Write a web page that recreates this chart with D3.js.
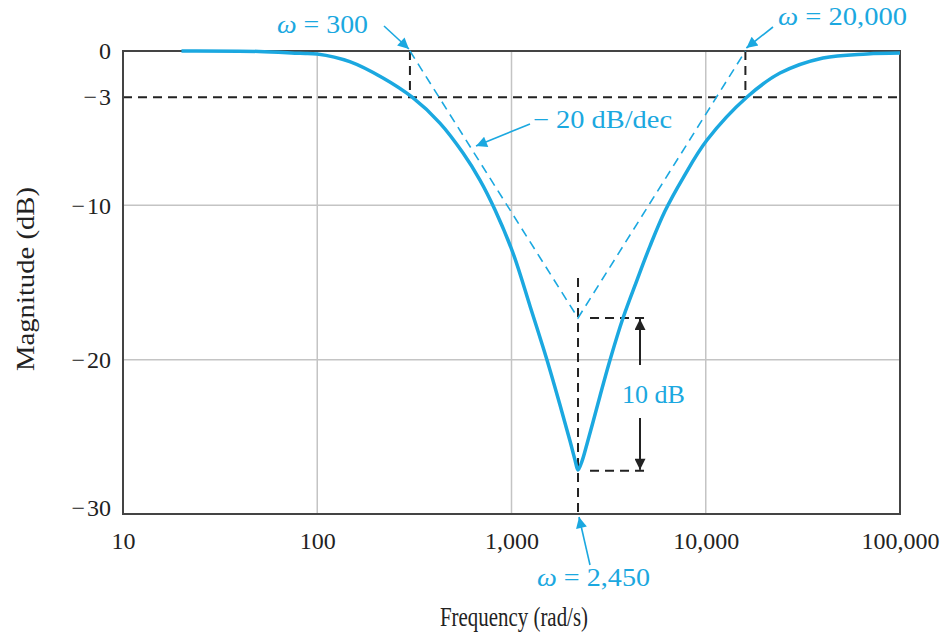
<!DOCTYPE html>
<html>
<head>
<meta charset="utf-8">
<script src="https://cdn.jsdelivr.net/npm/d3@7"></script>
<style>
  body { margin: 0; background: #fff; }
  text { font-family: "Liberation Serif", "Times New Roman", serif; }
</style>
</head>
<body>
<div id="chart"></div>
<script>
// data
const freq  = [20, 50, 81.5, 100, 147, 218, 307, 428, 563, 688, 823, 1018, 1245, 1523, 1777, 2001, 2123, 2199,
               2307, 2447, 2628, 2855, 3215, 3750, 4427, 5164, 6169, 7637, 10150, 16310, 24120, 40150, 67620, 100000];
const magDb = [0, -0.03, -0.15, -0.19, -0.69, -1.75, -2.98, -4.67, -6.61, -8.36, -10.3, -13.09, -16.52, -20.02, -22.94, -25.27, -26.5, -27.15,
               -26.57, -25.46, -24.04, -22.35, -20.02, -17.3, -14.84, -12.64, -10.37, -8.23, -5.77, -2.98, -1.43, -0.45, -0.19, -0.13];

// straight-line asymptotes (-20 dB/dec)
const asymFreq = [300, 2200, 16000];
const asymDb   = [0, -17.3, 0];

const xTicks = [10, 100, 1000, 10000, 100000];
const xTickLabels = ["10", "100", "1,000", "10,000", "100,000"];
const yTicks = [0, -3, -10, -20, -30];
const yGrid  = [-10, -20];

const cornerLo = 300, cornerHi = 16000, notchF = 2200, notchDb = -27.2, notchAsym = -17.3;

// constants
const width = 946, height = 636;
const blue = "#1ba8e0", ink = "#222";

const x = d3.scaleLog().domain([10, 100000]).range([123, 900]);
const y = d3.scaleLinear().domain([0, -30]).range([51, 514]);

const svg = d3.select("#chart").append("svg")
    .attr("width", width)
    .attr("height", height);

const defs = svg.append("defs");
[["arrBlue", blue], ["arrBlack", ink]].forEach(([id, c]) => {
    defs.append("marker")
        .attr("id", id)
        .attr("viewBox", "0 0 10 10")
        .attr("refX", 10).attr("refY", 5)
        .attr("markerWidth", 15).attr("markerHeight", 11)
        .attr("markerUnits", "userSpaceOnUse")
        .attr("orient", "auto")
      .append("path")
        .attr("d", "M0,0 L10,5 L0,10 Z")
        .attr("fill", c);
});

// grid
const grid = svg.append("g").attr("stroke", "#c4c4c4").attr("stroke-width", 1.5);
grid.selectAll(".gx").data(xTicks.slice(1, -1)).enter().append("line")
    .attr("x1", d => x(d)).attr("x2", d => x(d))
    .attr("y1", y(0)).attr("y2", y(-30));
grid.selectAll(".gy").data(yGrid).enter().append("line")
    .attr("x1", x(10)).attr("x2", x(100000))
    .attr("y1", d => y(d)).attr("y2", d => y(d));

// axes (labels only)
const xAxis = svg.append("g")
    .attr("transform", `translate(0,${y(-30)})`)
    .call(d3.axisBottom(x).tickValues(xTicks).tickSize(0).tickPadding(18)
        .tickFormat((d, i) => xTickLabels[i]));
const yAxis = svg.append("g")
    .attr("transform", `translate(${x(10)},0)`)
    .call(d3.axisLeft(y).tickValues(yTicks).tickSize(0).tickPadding(12)
        .tickFormat(d => d === 0 ? "0" : "\u2212\u200a" + Math.abs(d)));
[xAxis, yAxis].forEach(a => {
    a.select(".domain").remove();
    a.selectAll("text").attr("font-size", 24).attr("fill", ink)
        .style("font-family", '"Liberation Serif", serif');
});
yAxis.selectAll(".tick").filter(d => d === -30).select("text").attr("dy", "0.05em");

// -3 dB line and corner markers
const dash = svg.append("g").attr("stroke", ink).attr("stroke-width", 2)
    .attr("stroke-dasharray", "9,6").attr("fill", "none");
dash.append("line").attr("x1", x(10)).attr("x2", x(100000)).attr("y1", y(-3)).attr("y2", y(-3));
[cornerLo, cornerHi].forEach(f => {
    dash.append("line").attr("x1", x(f)).attr("x2", x(f)).attr("y1", y(0)).attr("y2", y(-3));
});
dash.append("line").attr("x1", x(notchF)).attr("x2", x(notchF))
    .attr("y1", y(notchAsym) - 40).attr("y2", y(-30));
[notchAsym, notchDb].forEach(v => {
    dash.append("line").attr("x1", x(notchF) + 12).attr("x2", x(notchF) + 72)
        .attr("y1", y(v)).attr("y2", y(v));
});

// frame
svg.append("rect")
    .attr("x", x(10)).attr("y", y(0))
    .attr("width", x(100000) - x(10)).attr("height", y(-30) - y(0))
    .attr("fill", "none").attr("stroke", "#444").attr("stroke-width", 2);

// asymptote
svg.append("path")
    .datum(asymFreq.map((f, i) => [f, asymDb[i]]))
    .attr("d", d3.line().x(d => x(d[0])).y(d => y(d[1])))
    .attr("fill", "none").attr("stroke", blue).attr("stroke-width", 1.6)
    .attr("stroke-dasharray", "9,6");

// magnitude curve
svg.append("path")
    .datum(freq.map((f, i) => [f, magDb[i]]))
    .attr("d", d3.line().x(d => x(d[0])).y(d => y(d[1])).curve(d3.curveCatmullRom.alpha(0.5)))
    .attr("fill", "none").attr("stroke", blue).attr("stroke-width", 3.5)
    .attr("stroke-linejoin", "round");

// 10 dB bracket
const bx = x(notchF) + 62;
svg.append("line").attr("x1", bx).attr("x2", bx)
    .attr("y1", 365).attr("y2", y(notchAsym) + 1)
    .attr("stroke", ink).attr("stroke-width", 2).attr("marker-end", "url(#arrBlack)");
svg.append("line").attr("x1", bx).attr("x2", bx)
    .attr("y1", 418).attr("y2", y(notchDb) - 1)
    .attr("stroke", ink).attr("stroke-width", 2).attr("marker-end", "url(#arrBlack)");
svg.append("text").attr("x", 622).attr("y", 403)
    .attr("font-size", 25).attr("fill", blue)
    .attr("textLength", 63).attr("lengthAdjust", "spacingAndGlyphs")
    .text("10 dB");

// annotations
function note(tx, ty, len, parts, ax1, ay1, ax2, ay2) {
    const t = svg.append("text").attr("x", tx).attr("y", ty)
        .attr("font-size", 25).attr("fill", blue)
        .attr("textLength", len).attr("lengthAdjust", "spacingAndGlyphs");
    parts.forEach(p => {
        const s = t.append("tspan").text(p[0]);
        if (p[1]) s.attr("font-style", "italic");
    });
    svg.append("line").attr("x1", ax1).attr("y1", ay1).attr("x2", ax2).attr("y2", ay2)
        .attr("stroke", blue).attr("stroke-width", 1.6).attr("marker-end", "url(#arrBlue)");
}
note(277, 33, 91, [["\u03c9", true], [" = 300"]], 384, 26, x(cornerLo) - 1, y(0) - 2);
note(778, 25, 129, [["\u03c9", true], [" = 20,000"]], 773, 27, x(cornerHi) + 1, y(0) - 3);
note(533, 128, 139, [["\u2212 20 dB/dec"]], 530, 124, 476, 146);
note(537, 586, 113, [["\u03c9", true], [" = 2,450"]], 590, 565, x(notchF) + 1, y(-30) + 3);

// axis titles
svg.append("text").attr("x", 440).attr("y", 626)
    .attr("font-size", 28).attr("fill", ink)
    .attr("textLength", 148).attr("lengthAdjust", "spacingAndGlyphs")
    .text("Frequency (rad/s)");
svg.append("text")
    .attr("transform", "translate(34,371) rotate(-90)")
    .attr("font-size", 26).attr("fill", ink)
    .attr("textLength", 184).attr("lengthAdjust", "spacingAndGlyphs")
    .text("Magnitude (dB)");
</script>
</body>
</html>
